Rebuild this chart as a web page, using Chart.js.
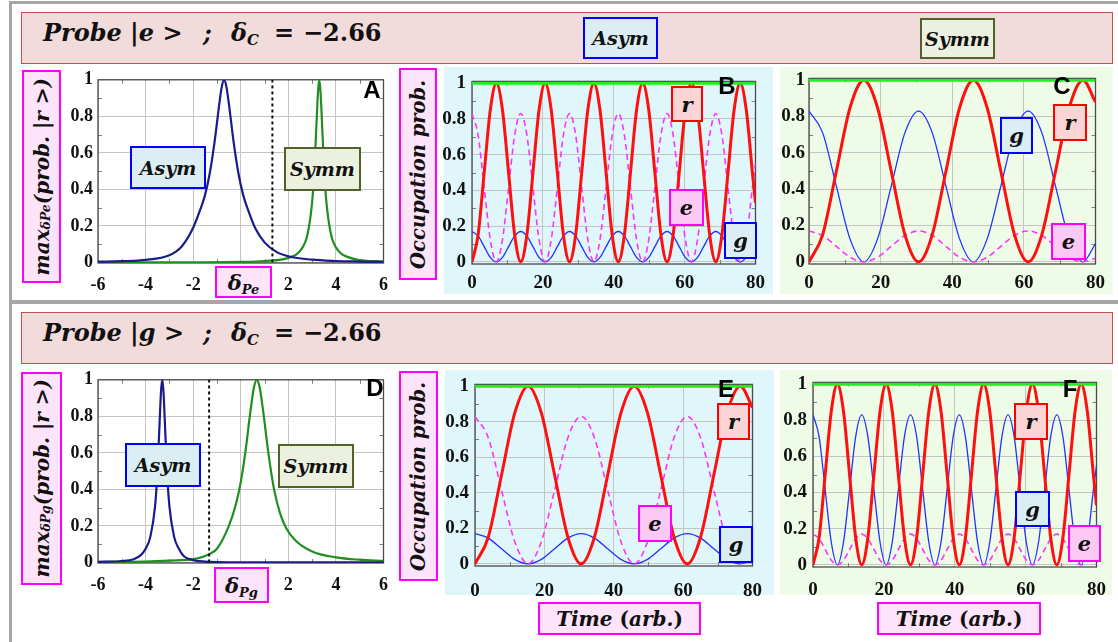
<!DOCTYPE html>
<html><head><meta charset="utf-8">
<script src="https://cdn.jsdelivr.net/npm/chart.js@4"></script>
<style>
body{margin:0;width:1118px;height:642px;position:relative;background:#fff;overflow:hidden;}
.abs{position:absolute;box-sizing:border-box;}
.hdr{background:#f2dcdb;border:1.5px solid #c0504d;}
.lbl{display:flex;align-items:center;justify-content:center;font-family:'DejaVu Serif';font-weight:bold;font-style:italic;color:#111;white-space:nowrap;}
.pink{background:#fde4fa;border:2px solid #ff00ff;}
.blu{background:#dbeef4;border:2px solid #0000ff;}
.grn{background:#ebf1de;border:2px solid #4f6228;}
.red{background:#fbd5d5;border:2px solid #ff0000;}
.mag{background:#fcc9f4;border:2px solid #ff00ff;}
.vert{writing-mode:vertical-rl;transform:rotate(180deg);}
.ht{position:absolute;font-family:'DejaVu Serif';font-weight:bold;font-style:italic;font-size:24px;line-height:24px;color:#111;white-space:nowrap;}
.up{font-style:normal;}
.let{position:absolute;font-family:'Liberation Sans';font-weight:bold;font-size:24px;line-height:24px;color:#000;transform:translate(-50%,-50%);}
sub{font-size:0.62em;vertical-align:-0.3em;line-height:0;}
canvas{position:absolute;}
.bg{position:absolute;}
</style></head>
<body>
<!-- gray frames -->
<div class="abs" style="left:9px;top:1px;width:1116px;height:302px;border:3px solid #a6a6a6;"></div>
<div class="abs" style="left:9px;top:301px;width:1116px;height:345px;border:3px solid #a6a6a6;"></div>
<!-- header strips -->
<div class="abs hdr" style="left:21px;top:12px;width:1092px;height:52px;"></div>
<div class="abs hdr" style="left:21px;top:312px;width:1092px;height:52px;"></div>
<span class="ht" style="left:43px;top:21px;">Probe |e &gt;</span>
<span class="ht" style="left:203px;top:21px;">;</span>
<span class="ht" style="left:231px;top:21px;">δ<sub>C</sub></span>
<span class="ht up" style="left:274px;top:21px;">=</span>
<span class="ht up" style="left:303px;top:21px;">−2.66</span>
<span class="ht" style="left:43px;top:321px;">Probe |g &gt;</span>
<span class="ht" style="left:203px;top:321px;">;</span>
<span class="ht" style="left:231px;top:321px;">δ<sub>C</sub></span>
<span class="ht up" style="left:274px;top:321px;">=</span>
<span class="ht up" style="left:303px;top:321px;">−2.66</span>
<div class="abs lbl blu" style="left:583px;top:17px;width:75px;height:42px;font-size:19px;"><span>Asym</span></div>
<div class="abs lbl grn" style="left:920px;top:18px;width:75px;height:41px;font-size:19px;"><span>Symm</span></div>

<!-- panel backgrounds -->
<div class="bg" style="left:444px;top:67px;width:329px;height:227px;background:#dff6fb;"></div>
<div class="bg" style="left:780px;top:67px;width:333px;height:227px;background:#eefbe7;"></div>
<div class="bg" style="left:445px;top:370px;width:329px;height:225px;background:#dff6fb;"></div>
<div class="bg" style="left:780px;top:370px;width:332px;height:225px;background:#eefbe7;"></div>

<canvas id="cA" width="344" height="236" style="left:56px;top:64px;"></canvas>
<canvas id="cB" width="337" height="232" style="left:436px;top:64px;"></canvas>
<canvas id="cC" width="341" height="233" style="left:772px;top:63px;"></canvas>
<canvas id="cD" width="344" height="236" style="left:56px;top:364px;"></canvas>
<canvas id="cE" width="338" height="229" style="left:438px;top:367px;"></canvas>
<canvas id="cF" width="342" height="231" style="left:776px;top:365px;"></canvas>

<!-- axis label boxes -->
<div class="abs lbl pink" style="left:22px;top:70px;width:39px;height:213px;font-size:20px;"><div class="vert">max<sub>δPe</sub>(prob. |r &gt;)</div></div>
<div class="abs lbl pink" style="left:399px;top:68px;width:38px;height:212px;font-size:19.5px;"><div class="vert">Occupation prob.</div></div>
<div class="abs lbl pink" style="left:21px;top:372px;width:41px;height:213px;font-size:20px;"><div class="vert">max<sub>δPg</sub>(prob. |r &gt;)</div></div>
<div class="abs lbl pink" style="left:399px;top:371px;width:39px;height:210px;font-size:19.5px;"><div class="vert">Occupation prob.</div></div>
<div class="abs lbl pink" style="left:215px;top:266px;width:57px;height:32px;font-size:21px;"><span>δ<sub>Pe</sub></span></div>
<div class="abs lbl pink" style="left:214px;top:567px;width:55px;height:36px;font-size:21px;"><span>δ<sub>Pg</sub></span></div>
<div class="abs lbl pink" style="left:538px;top:602px;width:163px;height:33px;font-size:20px;"><span>Time <span class="up">(</span>arb.<span class="up">)</span></span></div>
<div class="abs lbl pink" style="left:877px;top:602px;width:164px;height:33px;font-size:20px;"><span>Time <span class="up">(</span>arb.<span class="up">)</span></span></div>

<!-- in-plot boxes -->
<div class="abs lbl blu" style="left:130px;top:146px;width:76px;height:43px;font-size:19px;"><span>Asym</span></div>
<div class="abs lbl grn" style="left:284px;top:147px;width:77px;height:44px;font-size:19px;"><span>Symm</span></div>
<div class="abs lbl blu" style="left:125px;top:443px;width:76px;height:44px;font-size:19px;"><span>Asym</span></div>
<div class="abs lbl grn" style="left:278px;top:444px;width:76px;height:44px;font-size:19px;"><span>Symm</span></div>

<div class="abs lbl red" style="left:671px;top:86px;width:32px;height:36px;font-size:21px;"><span>r</span></div>
<div class="abs lbl mag" style="left:669px;top:189px;width:35px;height:37px;font-size:21px;"><span>e</span></div>
<div class="abs lbl blu" style="left:724px;top:222px;width:33px;height:37px;font-size:21px;"><span>g</span></div>
<div class="abs lbl blu" style="left:1000px;top:117px;width:33px;height:37px;font-size:21px;"><span>g</span></div>
<div class="abs lbl red" style="left:1053px;top:104px;width:34px;height:37px;font-size:21px;"><span>r</span></div>
<div class="abs lbl mag" style="left:1051px;top:223px;width:35px;height:37px;font-size:21px;"><span>e</span></div>
<div class="abs lbl red" style="left:717px;top:403px;width:33px;height:37px;font-size:21px;"><span>r</span></div>
<div class="abs lbl mag" style="left:638px;top:505px;width:34px;height:37px;font-size:21px;"><span>e</span></div>
<div class="abs lbl blu" style="left:719px;top:526px;width:34px;height:37px;font-size:21px;"><span>g</span></div>
<div class="abs lbl red" style="left:1014px;top:403px;width:34px;height:37px;font-size:21px;"><span>r</span></div>
<div class="abs lbl blu" style="left:1015px;top:491px;width:35px;height:36px;font-size:21px;"><span>g</span></div>
<div class="abs lbl mag" style="left:1068px;top:525px;width:33px;height:37px;font-size:21px;"><span>e</span></div>

<div class="let" style="left:372px;top:90px;">A</div>
<div class="let" style="left:727px;top:86px;">B</div>
<div class="let" style="left:1062px;top:86px;">C</div>
<div class="let" style="left:375px;top:388px;">D</div>
<div class="let" style="left:726px;top:389px;">E</div>
<div class="let" style="left:1070px;top:389px;">F</div>

<script>
// ---------------- data ----------------
const detuningTicks = [-6, -4, -2, 0, 2, 4, 6];
const probTicks = [0, 0.2, 0.4, 0.6, 0.8, 1];
const timeTicks = [0, 20, 40, 60, 80];

// Panel A (probe |e>)
const xA_asym = [-6,-5,-4,-3,-2.5,-2,-1.7,-1.5,-1.3,-1.1,-0.9,-0.8,-0.7,-0.6,-0.5,-0.3,-0.1,0.1,0.3,0.6,1,1.5,2,3,4,5,6];
const yA_asym = [0.004,0.007,0.014,0.04,0.085,0.19,0.29,0.37,0.49,0.66,0.87,0.96,1,0.96,0.87,0.66,0.49,0.37,0.29,0.19,0.11,0.058,0.034,0.015,0.008,0.005,0.003];
const xA_symm = [-6,-2,0,1,2,2.5,2.8,3.0,3.1,3.2,3.25,3.3,3.35,3.4,3.5,3.6,3.8,4.1,4.6,5,6];
const yA_symm = [0,0.001,0.003,0.008,0.025,0.065,0.15,0.33,0.52,0.81,0.94,1,0.94,0.81,0.52,0.33,0.15,0.065,0.025,0.013,0.005];
const xA_cut = [1.33, 1.33];
const yA_cut = [0, 1];

// Panel D (probe |g>)
const xD_asym = [-6,-5,-4.5,-4.2,-4.0,-3.8,-3.6,-3.5,-3.4,-3.35,-3.3,-3.25,-3.2,-3.1,-3.0,-2.8,-2.6,-2.4,-2.0,-1.5,-1,0,2,6];
const yD_asym = [0.003,0.008,0.018,0.04,0.075,0.14,0.31,0.5,0.8,0.94,1,0.94,0.8,0.5,0.31,0.14,0.075,0.035,0.013,0.005,0.002,0.001,0,0];
const xD_symm = [-6,-4,-3,-2,-1.33,-1,-0.5,-0.2,0,0.2,0.4,0.55,0.67,0.8,0.95,1.15,1.4,1.65,1.9,2.3,3,4,5,6];
const yD_symm = [0.002,0.005,0.01,0.018,0.045,0.075,0.2,0.32,0.44,0.61,0.82,0.955,1,0.955,0.82,0.61,0.40,0.27,0.19,0.12,0.06,0.028,0.015,0.009];
const xD_cut = [-1.33, -1.33];
const yD_cut = [0, 1];

// Time axis, fast oscillation (panels B, F)
const tFast = [0,1.72,3.44,5.16,6.88,8.6,10.32,12.04,13.76,15.48,17.2,18.92,20.64,22.36,24.08,25.8,27.52,29.24,30.96,32.68,34.4,36.12,37.84,39.56,41.28,43,44.72,46.44,48.16,49.88,51.6,53.32,55.04,56.76,58.48,60.2,61.92,63.64,65.36,67.08,68.8,70.52,72.24,73.96,75.68,77.4,79.12,80];
const rB = [0,.15,.5,.85,1,.85,.5,.15, 0,.15,.5,.85,1,.85,.5,.15, 0,.15,.5,.85,1,.85,.5,.15, 0,.15,.5,.85,1,.85,.5,.15, 0,.15,.5,.85,1,.85,.5,.15, 0,.15,.5,.85,1,.85,.5, .33];
const eB = [.83,.71,.415,.125,0,.125,.415,.71, .83,.71,.415,.125,0,.125,.415,.71, .83,.71,.415,.125,0,.125,.415,.71, .83,.71,.415,.125,0,.125,.415,.71, .83,.71,.415,.125,0,.125,.415,.71, .83,.71,.415,.125,0,.125,.415, .55];
const gB = [.17,.145,.085,.025,0,.025,.085,.145, .17,.145,.085,.025,0,.025,.085,.145, .17,.145,.085,.025,0,.025,.085,.145, .17,.145,.085,.025,0,.025,.085,.145, .17,.145,.085,.025,0,.025,.085,.145, .17,.145,.085,.025,0,.025,.085, .115];
const rF = [0,.15,.5,.85,1,.85,.5,.15, 0,.15,.5,.85,1,.85,.5,.15, 0,.15,.5,.85,1,.85,.5,.15, 0,.15,.5,.85,1,.85,.5,.15, 0,.15,.5,.85,1,.85,.5,.15, 0,.15,.5,.85,1,.85,.5, .33];
const gF = [.83,.71,.415,.125,0,.125,.415,.71, .83,.71,.415,.125,0,.125,.415,.71, .83,.71,.415,.125,0,.125,.415,.71, .83,.71,.415,.125,0,.125,.415,.71, .83,.71,.415,.125,0,.125,.415,.71, .83,.71,.415,.125,0,.125,.415, .55];
const eF = [.17,.145,.085,.025,0,.025,.085,.145, .17,.145,.085,.025,0,.025,.085,.145, .17,.145,.085,.025,0,.025,.085,.145, .17,.145,.085,.025,0,.025,.085,.145, .17,.145,.085,.025,0,.025,.085,.145, .17,.145,.085,.025,0,.025,.085, .115];

// Time axis, slow oscillation (panels C, E)
const tSlow = [0,3.825,7.65,11.475,15.3,19.125,22.95,26.775,30.6,34.425,38.25,42.075,45.9,49.725,53.55,57.375,61.2,65.025,68.85,72.675,76.5,80];
const rC = [0,.15,.5,.85,1,.85,.5,.15, 0,.15,.5,.85,1,.85,.5,.15, 0,.15,.5,.85,1, .88];
const gC = [.83,.71,.415,.125,0,.125,.415,.71, .83,.71,.415,.125,0,.125,.415,.71, .83,.71,.415,.125,0, .1];
const eC = [.17,.145,.085,.025,0,.025,.085,.145, .17,.145,.085,.025,0,.025,.085,.145, .17,.145,.085,.025,0, .02];
const rE = [0,.15,.5,.85,1,.85,.5,.15, 0,.15,.5,.85,1,.85,.5,.15, 0,.15,.5,.85,1, .88];
const eE = [.83,.71,.415,.125,0,.125,.415,.71, .83,.71,.415,.125,0,.125,.415,.71, .83,.71,.415,.125,0, .1];
const gE = [.17,.145,.085,.025,0,.025,.085,.145, .17,.145,.085,.025,0,.025,.085,.145, .17,.145,.085,.025,0, .02];

// total population
const tTotal = [0, 80];
const pTotal = [1, 1];

// ---------------- helpers ----------------
const minorProb = [0.1, 0.3, 0.5, 0.7, 0.9];
const minorDet = [-5, -3, -1, 1, 3, 5];
const minorTime = [10, 30, 50, 70];

function pts(xs, ys){ return xs.map((x, i) => ({x: x, y: ys[i]})); }
function curve(xs, ys, color, width, dash, smooth){
  return {data: pts(xs, ys), borderColor: color, borderWidth: width, borderDash: dash || [],
    pointRadius: 0, fill: false, tension: 0,
    cubicInterpolationMode: smooth ? 'monotone' : 'default'};
}

const framePlugin = {
  id: 'frame',
  beforeDatasetsDraw(chart, args, opts){
    const a = chart.chartArea, c = chart.ctx, xs = chart.scales.x, ys = chart.scales.y;
    c.save();
    c.strokeStyle = '#808080'; c.lineWidth = 1;
    (opts.minorY || []).forEach(v => {
      const p = Math.round(ys.getPixelForValue(v)) + 0.5;
      c.beginPath(); c.moveTo(a.left, p); c.lineTo(a.left + 4, p); c.stroke();
      c.beginPath(); c.moveTo(a.right, p); c.lineTo(a.right - 4, p); c.stroke();
    });
    (opts.minorX || []).forEach(v => {
      const p = Math.round(xs.getPixelForValue(v)) + 0.5;
      c.beginPath(); c.moveTo(p, a.bottom); c.lineTo(p, a.bottom - 4); c.stroke();
      c.beginPath(); c.moveTo(p, a.top); c.lineTo(p, a.top + 4); c.stroke();
    });
    c.strokeStyle = '#4a4a4a'; c.lineWidth = 1.3;
    c.strokeRect(a.left, a.top, a.right - a.left, a.bottom - a.top);
    c.restore();
  }
};

function makeChart(id, o){
  const tf = {family: 'Liberation Serif', weight: 'bold', size: o.fs};
  new Chart(document.getElementById(id), {
    type: 'line',
    data: {datasets: o.datasets},
    options: {
      responsive: false, animation: false, events: [],
      layout: {padding: {top: o.padT, right: o.padR, left: 0, bottom: 0}},
      plugins: {legend: {display: false}, tooltip: {enabled: false},
        frame: {minorX: o.minorX, minorY: minorProb}},
      scales: {
        x: {type: 'linear', min: o.xMin, max: o.xMax,
          afterBuildTicks: s => { s.ticks = o.xTicks.map(v => ({value: v})); },
          afterFit: s => { s.height = o.xH; },
          grid: {color: '#c4c4c4', lineWidth: 1, drawTicks: false},
          border: {display: false},
          ticks: {font: tf, color: '#111', padding: o.xPad, maxRotation: 0, autoSkip: false,
            callback: v => String(v)}},
        y: {type: 'linear', min: o.yMin, max: o.yMax,
          afterBuildTicks: s => { s.ticks = probTicks.map(v => ({value: v})); },
          afterFit: s => { s.width = o.yW; },
          grid: {color: '#c4c4c4', lineWidth: 1, drawTicks: false},
          border: {display: false},
          ticks: {font: tf, color: '#111', padding: o.yPad, autoSkip: false,
            callback: v => String(v)}}
      }
    },
    plugins: [framePlugin]
  });
}

const NAVY = '#1b1b8a', DGREEN = '#1f8f1f', RED = '#ff1010', MAG = '#ff33ff', BLUE = '#2233ff', LIME = '#22ee22';

function detChart(id, xa, ya, xs, ys, xc, yc){
  makeChart(id, {
    datasets: [
      curve(xc, yc, '#111111', 2, [3, 3], false),
      curve(xa, ya, NAVY, 2.2, null, true),
      curve(xs, ys, DGREEN, 2.2, null, true)
    ],
    xMin: -6, xMax: 6, yMin: -0.003, yMax: 1.0, xTicks: detuningTicks, minorX: minorDet,
    padT: 10, padR: 12, yW: 42, xH: 37, xPad: 12, yPad: 5, fs: 18
  });
}
function timeChart(id, t, r, e, g, lay){
  makeChart(id, Object.assign({
    datasets: [
      curve(tTotal, pTotal, LIME, 3, null, false),
      curve(t, r, RED, 3, null, true),
      curve(t, e, MAG, 1.6, [6, 4], true),
      curve(t, g, BLUE, 1.3, null, true)
    ],
    xMin: 0, xMax: 80, yMin: -0.012, yMax: 1.01, xTicks: timeTicks, minorX: minorTime, fs: 19
  }, lay));
}

detChart('cA', xA_asym, yA_asym, xA_symm, yA_symm, xA_cut, yA_cut);
detChart('cD', xD_asym, yD_asym, xD_symm, yD_symm, xD_cut, yD_cut);
timeChart('cB', tFast, rB, eB, gB, {padT: 10, padR: 12, yW: 36, xH: 32, xPad: 8, yPad: 6});
timeChart('cC', tSlow, rC, eC, gC, {padT: 10, padR: 13, yW: 37, xH: 32, xPad: 8, yPad: 4});
timeChart('cE', tSlow, rE, eE, gE, {padT: 10, padR: 12, yW: 37, xH: 30, xPad: 14, yPad: 6});
timeChart('cF', tFast, rF, eF, gF, {padT: 10, padR: 13, yW: 37, xH: 29, xPad: 12, yPad: 6});
</script>
</body></html>
